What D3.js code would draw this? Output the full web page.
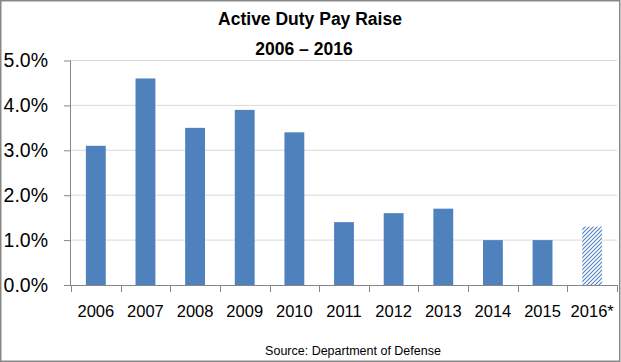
<!DOCTYPE html>
<html><head><meta charset="utf-8">
<script src="https://cdn.jsdelivr.net/npm/d3@7"></script>
<style>body{margin:0;background:#fff}svg{display:block}</style>
</head><body>
<script>
const categories = ["2006","2007","2008","2009","2010","2011","2012","2013","2014","2015","2016*"];
const values = [3.1, 4.6, 3.5, 3.9, 3.4, 1.4, 1.6, 1.7, 1.0, 1.0, 1.3];
const projected = [false,false,false,false,false,false,false,false,false,false,true];
const yTicks = [0,1,2,3,4,5];
const titleLines = ["Active Duty Pay Raise", "2006 \u2013 2016"];
const sourceText = "Source: Department of Defense";

(function(){
const W = 621, H = 362;
const svg = d3.select("body").append("svg").attr("width", W).attr("height", H);
const font = "'Liberation Sans', Arial, sans-serif";
const blue = "#4f81bd", axisCol = "#868686", gridCol = "#d9d9d9";

const defs = svg.append("defs");
const pat = defs.append("pattern").attr("id","hatch").attr("patternUnits","userSpaceOnUse")
  .attr("width",4).attr("height",4);
pat.append("rect").attr("width",4).attr("height",4).attr("fill","#fff");
pat.append("path").attr("d","M-1,1 l2,-2 M0,4 l4,-4 M3,5 l2,-2")
  .attr("stroke", blue).attr("stroke-width", 1.1);

svg.append("rect").attr("x",0.75).attr("y",0.75).attr("width",W-2).attr("height",H-1.5)
  .attr("fill","#fff").attr("stroke","#878787").attr("stroke-width",1.5);

const pL = 71, pR = 617, pT = 60.5, pB = 285;
const x = d3.scaleBand().domain(categories).range([pL, pR]).paddingInner(0.6).paddingOuter(0.3);
const y = d3.scaleLinear().domain([0,5]).range([pB, pT]);

// gridlines
svg.append("g").selectAll("line").data(yTicks.filter(d => d > 0)).join("line")
  .attr("x1", pL).attr("x2", pR)
  .attr("y1", d => y(d)).attr("y2", d => y(d))
  .attr("stroke", gridCol).attr("stroke-width", 1);

// bars
svg.append("g").selectAll("rect").data(categories).join("rect")
  .attr("x", d => x(d)).attr("width", x.bandwidth())
  .attr("y", (d,i) => y(values[i])).attr("height", (d,i) => y(0) - y(values[i]))
  .attr("fill", (d,i) => projected[i] ? "url(#hatch)" : blue);

// y axis
const yAxis = d3.axisLeft(y).tickValues(yTicks).tickSize(7).tickPadding(23)
  .tickFormat(d => d3.format(".1%")(d/100));
const gy = svg.append("g").attr("transform", `translate(${pL},0)`).call(yAxis);
gy.select(".domain").attr("stroke", axisCol).attr("d", `M-0.5,${pT}V${pB}`);
gy.selectAll(".tick line").attr("stroke", axisCol);
gy.selectAll(".tick text").attr("font-family", font).attr("font-size", "19.5px")
  .attr("fill", "#000").attr("x", -23);

// x axis
const xAxis = d3.axisBottom(x).tickSize(0).tickPadding(20);
const gx = svg.append("g").attr("transform", `translate(0,${pB})`).call(xAxis);
gx.select(".domain").attr("stroke", axisCol).attr("d", `M${pL},0.5H${pR}`);
gx.selectAll(".tick text").attr("font-family", font).attr("font-size", "16.5px").attr("fill", "#000");
const bounds = d3.range(categories.length + 1).map(i => pL + i * x.step());
gx.append("g").selectAll("line").data(bounds).join("line")
  .attr("x1", d => Math.round(d) + 0.5).attr("x2", d => Math.round(d) + 0.5)
  .attr("y1", 0).attr("y2", 7).attr("stroke", axisCol);

// title
svg.append("text").attr("x", 310).attr("y", 24.5).attr("text-anchor","middle")
  .attr("font-family", font).attr("font-weight","bold").attr("font-size","17.5px").text(titleLines[0]);
svg.append("text").attr("x", 304).attr("y", 55).attr("text-anchor","middle")
  .attr("font-family", font).attr("font-weight","bold").attr("font-size","17.5px").text(titleLines[1]);

// source
svg.append("text").attr("x", 353).attr("y", 355).attr("text-anchor","middle")
  .attr("font-family", font).attr("font-size","12.5px").text(sourceText);
})();
</script>
</body></html>
